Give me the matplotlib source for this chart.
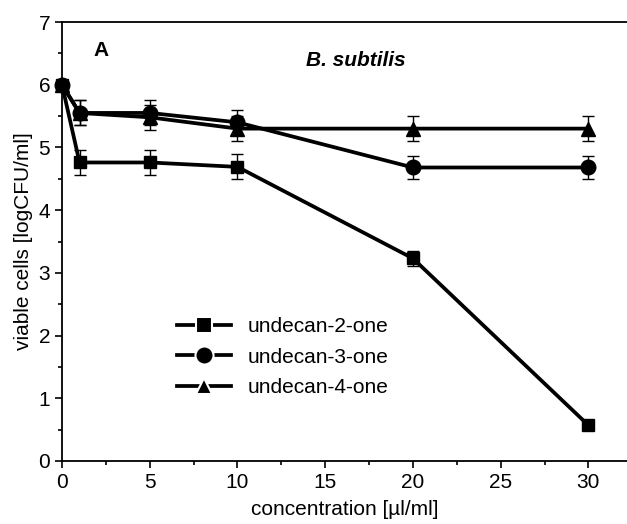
import matplotlib
matplotlib.use("Agg")
import matplotlib.pyplot as plt
from matplotlib.ticker import MultipleLocator
from matplotlib.lines import Line2D

plt.rcParams['font.family'] = ['Liberation Sans', 'DejaVu Sans']

conc = [0, 1, 5, 10, 20, 30]
undecan2 = [6.0, 4.76, 4.76, 4.69, 3.23, 0.57]
undecan2_err = [0.0, 0.2, 0.2, 0.2, 0.12, 0.05]
undecan3 = [6.0, 5.55, 5.55, 5.40, 4.68, 4.68]
undecan3_err = [0.0, 0.2, 0.2, 0.2, 0.18, 0.18]
undecan4 = [6.0, 5.55, 5.48, 5.30, 5.30, 5.30]
undecan4_err = [0.0, 0.2, 0.2, 0.2, 0.2, 0.2]
labels = ['undecan-2-one', 'undecan-3-one', 'undecan-4-one']

fig = plt.figure(figsize=(6.27, 5.24), dpi=100)
ax = fig.add_axes([62/627, 63/524, 565/627, 439/524])

series = [(undecan2, undecan2_err, 's', 9), (undecan3, undecan3_err, 'o', 10.5), (undecan4, undecan4_err, '^', 9.5)]
for (y, e, m, ms), lab in zip(series, labels):
    ax.errorbar(conc, y, yerr=e, color='black', lw=2.7, marker=m, ms=ms,
                elinewidth=1.0, capsize=4, capthick=1.0, label=lab, clip_on=False, zorder=3)

ax.set_xlim(0, 32.2)
ax.set_ylim(0, 7)
ax.xaxis.set_major_locator(MultipleLocator(5))
ax.xaxis.set_minor_locator(MultipleLocator(2.5))
ax.yaxis.set_major_locator(MultipleLocator(1))
ax.yaxis.set_minor_locator(MultipleLocator(0.5))
ax.spines['right'].set_visible(False)
for s in ['left', 'bottom', 'top']:
    ax.spines[s].set_linewidth(1.3)
ax.tick_params(axis='both', which='major', direction='out', length=5, width=1.2, labelsize=15)
ax.tick_params(axis='both', which='minor', direction='out', length=3, width=1.2)
ax.tick_params(axis='x', which='both', top=False)

ax.set_xlabel('concentration [µl/ml]', fontsize=15, labelpad=6)
ax.set_ylabel('viable cells [logCFU/ml]', fontsize=15, labelpad=4)

ax.text(0.055, 0.935, 'A', transform=ax.transAxes, fontsize=15, fontweight='bold',
        va='center', ha='left')
ax.text(0.52, 0.912, 'B. subtilis', transform=ax.transAxes, fontsize=15, fontweight='bold',
        style='italic', va='center', ha='center')

handles = [Line2D([], [], color='black', lw=2.7, marker=m, ms=ms + 2.5, mec='white', mew=1.5,
                  mfc='black') for (_, _, m, ms) in series]
leg = ax.legend(handles, labels, loc='upper left', bbox_to_anchor=(0.17, 0.37), frameon=False,
                fontsize=15, handlelength=2.6, handletextpad=0.8, labelspacing=0.55)

fig.savefig('out.png', dpi=100)
